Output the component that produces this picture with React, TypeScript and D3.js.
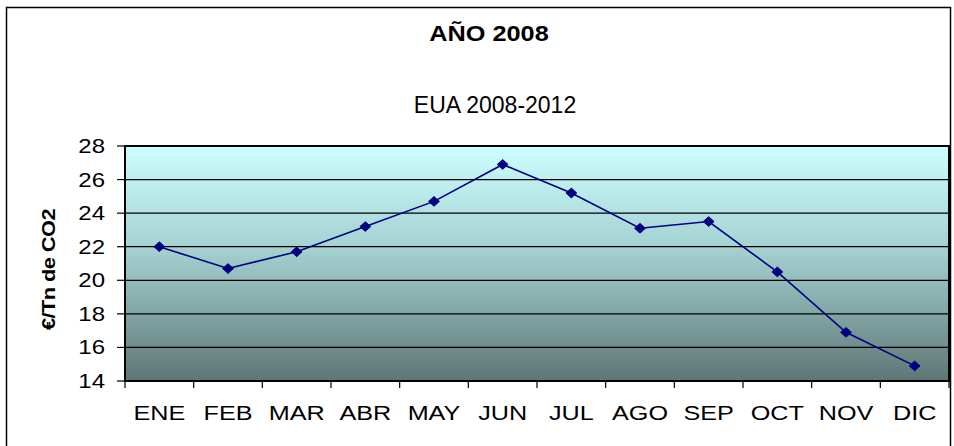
import React, { useEffect, useRef } from "react";
import * as d3 from "d3";

const months = ["ENE", "FEB", "MAR", "ABR", "MAY", "JUN", "JUL", "AGO", "SEP", "OCT", "NOV", "DIC"];
const prices = [22.0, 20.7, 21.7, 23.2, 24.7, 26.9, 25.2, 23.1, 23.5, 20.5, 16.9, 14.9];
const yTicks = [14, 16, 18, 20, 22, 24, 26, 28];
const title = "AÑO 2008";
const seriesName = "EUA 2008-2012";
const yLabel = "€/Tn de CO2";

const App = () => {
  const ref = useRef<SVGSVGElement>(null);

  useEffect(() => {
    const W = 954,
      H = 446;
    const margin = { top: 146, right: 5, bottom: 65, left: 125 };
    const width = W - margin.left - margin.right,
      height = H - margin.top - margin.bottom;
    const sans = "Liberation Sans, Arial, sans-serif";
    const narrow = "Liberation Sans Narrow, Liberation Sans, sans-serif";

    const svg = d3.select(ref.current);
    svg.selectAll("*").remove();

    // chart frame
    svg
      .append("rect")
      .attr("x", 6.5)
      .attr("y", 7.5)
      .attr("width", 944)
      .attr("height", 460)
      .attr("fill", "white")
      .attr("stroke", "black")
      .attr("stroke-width", 1.5);

    svg
      .append("text")
      .attr("transform", "translate(489,41) scale(1.15,1)")
      .attr("text-anchor", "middle")
      .attr("font-family", narrow)
      .attr("font-weight", "bold")
      .attr("font-size", 22)
      .text(title);

    svg
      .append("text")
      .attr("x", 495)
      .attr("y", 113)
      .attr("text-anchor", "middle")
      .attr("font-family", narrow)
      .attr("font-size", 23)
      .text(seriesName);

    const defs = svg.append("defs");
    const grad = defs
      .append("linearGradient")
      .attr("id", "bg")
      .attr("x1", 0)
      .attr("y1", 0)
      .attr("x2", 0)
      .attr("y2", 1);
    grad.append("stop").attr("offset", "0%").attr("stop-color", "#ccffff");
    grad.append("stop").attr("offset", "45%").attr("stop-color", "#a3cfcf");
    grad.append("stop").attr("offset", "100%").attr("stop-color", "#5d7675");

    const g = svg.append("g").attr("transform", `translate(${margin.left},${margin.top})`);

    const x = d3.scaleBand().domain(months).range([0, width]);
    const y = d3.scaleLinear().domain([14, 28]).range([height, 0]);

    g.append("rect").attr("width", width).attr("height", height).attr("fill", "url(#bg)");

    // gridlines
    g.selectAll(".grid")
      .data(yTicks)
      .enter()
      .append("line")
      .attr("x1", 0)
      .attr("x2", width)
      .attr("y1", (d) => y(d))
      .attr("y2", (d) => y(d))
      .attr("stroke", "black")
      .attr("stroke-width", 1.2);

    g.append("rect")
      .attr("width", width)
      .attr("height", height)
      .attr("fill", "none")
      .attr("stroke", "black")
      .attr("stroke-width", 2);

    // y ticks + labels
    g.selectAll(".ytick")
      .data(yTicks)
      .enter()
      .append("line")
      .attr("x1", -8)
      .attr("x2", 0)
      .attr("y1", (d) => y(d))
      .attr("y2", (d) => y(d))
      .attr("stroke", "black")
      .attr("stroke-width", 1.2);

    g.selectAll(".ylabel")
      .data(yTicks)
      .enter()
      .append("text")
      .attr("transform", (d) => `translate(-20,${y(d) + 7}) scale(1.2,1)`)
      .attr("text-anchor", "end")
      .attr("font-family", sans)
      .attr("font-size", 20)
      .text((d) => d);

    // x ticks at band boundaries
    const bounds = months.map((m) => x(m)!).concat([width]);
    g.selectAll(".xtick")
      .data(bounds)
      .enter()
      .append("line")
      .attr("x1", (d) => d)
      .attr("x2", (d) => d)
      .attr("y1", height)
      .attr("y2", height + 7)
      .attr("stroke", "black")
      .attr("stroke-width", 1.2);

    g.selectAll(".xlabel")
      .data(months)
      .enter()
      .append("text")
      .attr("transform", (d) => `translate(${x(d)! + x.bandwidth() / 2},${height + 39}) scale(1.2,1)`)
      .attr("text-anchor", "middle")
      .attr("font-family", sans)
      .attr("font-size", 21)
      .text((d) => d);

    // y title
    svg
      .append("text")
      .attr("transform", `translate(55,${margin.top + height / 2 + 6}) rotate(-90) scale(1.15,1)`)
      .attr("text-anchor", "middle")
      .attr("font-family", sans)
      .attr("font-weight", "bold")
      .attr("font-size", 19)
      .attr("letter-spacing", -0.5)
      .text(yLabel);

    // line + markers
    const cx = (i: number) => x(months[i])! + x.bandwidth() / 2;
    const line = d3
      .line<number>()
      .x((d, i) => cx(i))
      .y((d) => y(d));

    g.append("path")
      .datum(prices)
      .attr("fill", "none")
      .attr("stroke", "#000080")
      .attr("stroke-width", 1.6)
      .attr("d", line);

    const diamond = d3.symbol().type(d3.symbolDiamond2).size(75);
    g.selectAll(".pt")
      .data(prices)
      .enter()
      .append("path")
      .attr("d", diamond)
      .attr("transform", (d, i) => `translate(${cx(i)},${y(d)}) scale(1,0.9)`)
      .attr("fill", "#000080")
      .attr("stroke", "#000080");
  }, []);

  return (
    <svg
      ref={ref}
      width={954}
      height={446}
      style={{ position: "absolute", left: 0, top: 0, display: "block" }}
    />
  );
};

export default App;
